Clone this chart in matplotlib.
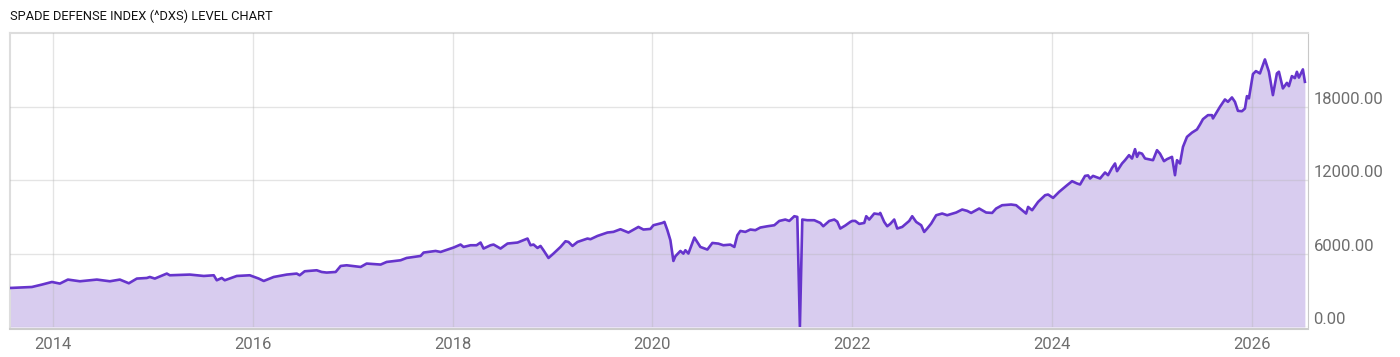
import matplotlib
matplotlib.use("Agg")
import matplotlib.pyplot as plt
from matplotlib.ticker import FixedLocator, FuncFormatter

# decimal years
years = [
    2013.57, 2013.79, 2013.89, 2013.99, 2014.07, 2014.15, 2014.27, 2014.44, 2014.57, 2014.67,
    2014.76, 2014.84, 2014.94, 2014.97, 2015.02, 2015.14, 2015.17, 2015.37, 2015.51, 2015.61,
    2015.64, 2015.69, 2015.72, 2015.84, 2015.97, 2016.06, 2016.11, 2016.21, 2016.34, 2016.44,
    2016.47, 2016.52, 2016.64, 2016.69, 2016.74, 2016.83, 2016.88, 2016.94, 2017.08, 2017.14,
    2017.28, 2017.34, 2017.48, 2017.54, 2017.68, 2017.71, 2017.83, 2017.88, 2018.01, 2018.08,
    2018.11, 2018.18, 2018.24, 2018.28, 2018.31, 2018.38, 2018.41, 2018.48, 2018.55, 2018.65,
    2018.75, 2018.78, 2018.81, 2018.85, 2018.88, 2018.91, 2018.96, 2019.01, 2019.08, 2019.13,
    2019.16, 2019.20, 2019.25, 2019.35, 2019.38, 2019.45, 2019.55, 2019.61, 2019.68, 2019.76,
    2019.86, 2019.91, 2019.98, 2020.01, 2020.10, 2020.12, 2020.15, 2020.18, 2020.21, 2020.23,
    2020.28, 2020.31, 2020.33, 2020.36, 2020.42, 2020.48, 2020.55, 2020.60, 2020.66, 2020.71,
    2020.78, 2020.82, 2020.85, 2020.88, 2020.93, 2020.98, 2021.03, 2021.08, 2021.15, 2021.22,
    2021.27, 2021.33, 2021.37, 2021.42, 2021.45, 2021.476, 2021.50, 2021.55, 2021.62, 2021.68,
    2021.71, 2021.77, 2021.82, 2021.85, 2021.88, 2021.93, 2021.98, 2022.00, 2022.03, 2022.07,
    2022.12, 2022.14, 2022.17, 2022.22, 2022.27, 2022.28, 2022.32, 2022.35, 2022.38, 2022.42,
    2022.45, 2022.50, 2022.57, 2022.60, 2022.64, 2022.69, 2022.72, 2022.75, 2022.79, 2022.84,
    2022.90, 2022.95, 2023.04, 2023.10, 2023.15, 2023.19, 2023.27, 2023.34, 2023.40, 2023.44,
    2023.50, 2023.59, 2023.64, 2023.70, 2023.74, 2023.76, 2023.80, 2023.86, 2023.93, 2023.96,
    2024.01, 2024.07, 2024.15, 2024.20, 2024.25, 2024.28, 2024.33, 2024.36, 2024.38, 2024.41,
    2024.48, 2024.53, 2024.56, 2024.60, 2024.63, 2024.65, 2024.70, 2024.73, 2024.77, 2024.80,
    2024.83, 2024.85, 2024.87, 2024.90, 2024.93, 2024.98, 2025.01, 2025.05, 2025.08, 2025.12,
    2025.15, 2025.20, 2025.23, 2025.25, 2025.28, 2025.31, 2025.35, 2025.40, 2025.45, 2025.48,
    2025.51, 2025.56, 2025.60, 2025.61, 2025.65, 2025.68, 2025.73, 2025.76, 2025.80, 2025.83,
    2025.86, 2025.90, 2025.93, 2025.95, 2025.97, 2026.01, 2026.04, 2026.08, 2026.13, 2026.17,
    2026.21, 2026.25, 2026.27, 2026.31, 2026.35, 2026.37, 2026.40, 2026.43, 2026.45, 2026.47,
    2026.51, 2026.53,
]
levels = [
    3193, 3274, 3470, 3684, 3553, 3880, 3741, 3880, 3741, 3880,
    3577, 3962, 4011, 4093, 3962, 4371, 4232, 4289, 4175, 4232,
    3823, 4011, 3823, 4175, 4232, 3962, 3766, 4093, 4289, 4371,
    4232, 4560, 4641, 4502, 4453, 4502, 4994, 5049, 4912, 5190,
    5108, 5321, 5460, 5648, 5812, 6090, 6221, 6139, 6500, 6746,
    6549, 6688, 6688, 6909, 6418, 6688, 6746, 6418, 6827, 6909,
    7236, 6688, 6746, 6467, 6631, 6279, 5648, 6009, 6549, 7015,
    6958, 6631, 6958, 7236, 7181, 7449, 7728, 7783, 7998, 7728,
    8186, 7973, 8022, 8325, 8514, 8595, 7916, 7097, 5403, 5787,
    6221, 6003, 6279, 6009, 7318, 6549, 6336, 6876, 6822, 6688,
    6740, 6549, 7507, 7859, 7780, 7973, 7920, 8137, 8240, 8325,
    8677, 8790, 8677, 9062, 9005, 30, 8790, 8736, 8736, 8514,
    8243, 8677, 8790, 8620, 8055, 8300, 8595, 8677, 8677, 8433,
    8514, 9062, 8790, 9283, 9223, 9332, 8595, 8243, 8433, 8792,
    8055, 8186, 8677, 9062, 8595, 8325, 7777, 8055, 8460, 9144,
    9283, 9144, 9365, 9610, 9500, 9332, 9692, 9365, 9332, 9692,
    9962, 10020, 9962, 9553, 9283, 9823, 9553, 10233, 10781, 10838,
    10560, 11051, 11600, 11927, 11740, 11657, 12361, 12400, 12148, 12361,
    12148, 12640, 12420, 13016, 13376, 12746, 13376, 13646, 14055, 13780,
    14546, 13917, 14260, 14180, 13786, 13700, 13646, 14464, 14180, 13565,
    13730, 13917, 12418, 13646, 13376, 14735, 15553, 15900, 16159, 16560,
    17002, 17330, 17330, 17060, 17600, 18010, 18615, 18420, 18779, 18420,
    17682, 17650, 17870, 18886, 18700, 20687, 20932, 20743, 21890, 20880,
    18967, 20743, 20880, 19516, 19970, 19700, 20523, 20360, 20874, 20400,
    21071, 20056,
]

year_ticks = [2014, 2016, 2018, 2020, 2022, 2024, 2026]
level_ticks = [0, 6000, 12000, 18000]

title = "SPADE DEFENSE INDEX (^DXS) LEVEL CHART"

line_color = "#6634cc"
fill_color = "#d8ccef"
label_color = "#6e6e6e"

plt.rcParams["font.family"] = ["Roboto", "DejaVu Sans"]

fig = plt.figure(figsize=(14, 3.57), dpi=100)
ax = fig.add_axes([0.0071, 0.084, 0.9271, 0.8236])

ax.fill_between(years, levels, 0, color=fill_color, lw=0, zorder=1)
ax.plot(years, levels, color=line_color, lw=1.9, zorder=3, solid_joinstyle="round")

ax.set_xlim(2013.57, 2026.56)
ax.set_ylim(0, 24050)

ax.xaxis.set_major_locator(FixedLocator(year_ticks))
ax.xaxis.set_major_formatter(FuncFormatter(lambda v, p: "%d" % v))
ax.yaxis.set_major_locator(FixedLocator(level_ticks))
ax.yaxis.set_major_formatter(FuncFormatter(lambda v, p: "%.2f" % v))
ax.yaxis.tick_right()

ax.grid(True, color="#b4b4b4", alpha=0.35, lw=1, zorder=2)
ax.set_axisbelow(False)
ax.tick_params(axis="both", length=0, colors=label_color, labelsize=12)
ax.tick_params(axis="y", pad=4)
ax.tick_params(axis="x", pad=6)
for lbl in ax.get_yticklabels():
    lbl.set_verticalalignment("bottom")

for side in ["left", "top"]:
    ax.spines[side].set_color("#dddddd")
    ax.spines[side].set_linewidth(1.5)
ax.spines["right"].set_color("#c8c8c8")
ax.spines["bottom"].set_color("#cccccc")
ax.spines["bottom"].set_linewidth(1.5)
ax.spines["bottom"].set_position(("outward", 1.5))

fig.text(0.0071, 0.955, title, fontsize=9.3, color="#111111", ha="left", va="center")

fig.savefig("out.png", dpi=100)
